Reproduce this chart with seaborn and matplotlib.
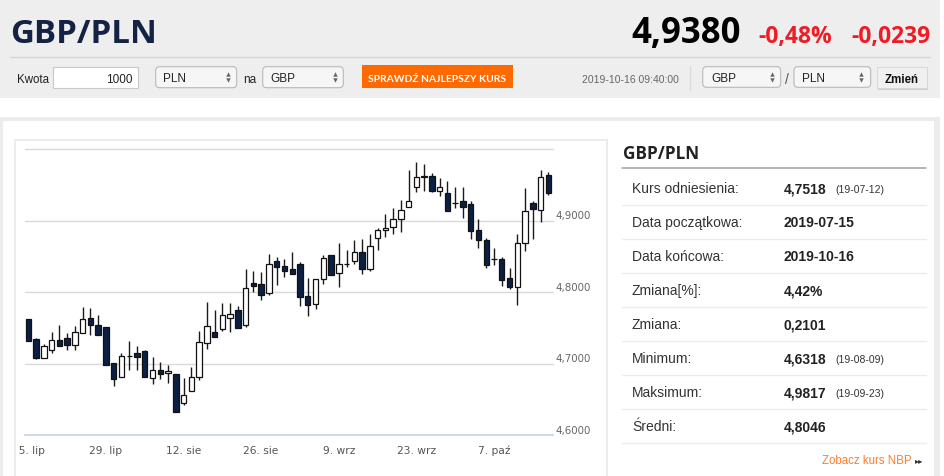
import numpy as np
import pandas as pd
import matplotlib
matplotlib.use("Agg")
import matplotlib.pyplot as plt
import seaborn as sns
from matplotlib.patches import Rectangle, FancyBboxPatch
from matplotlib import transforms as mtransforms

# ---------------- data ----------------
dates = pd.bdate_range("2019-07-15", "2019-10-16")
open_ = [4.7628, 4.7349, 4.7079, 4.7186, 4.7326, 4.7363, 4.7265, 4.7433, 4.7637, 4.7544,
         4.7512, 4.7000, 4.6805, 4.7098, 4.7144, 4.7172, 4.6791, 4.6916, 4.6865, 4.6860,
         4.6451, 4.6614, 4.6805, 4.7290, 4.7442, 4.7488, 4.7642, 4.7744, 4.7535, 4.8130,
         4.8116, 4.7986, 4.8433, 4.8358, 4.8316, 4.8386, 4.7944, 4.7828, 4.8177, 4.8512,
         4.8265, 4.8390, 4.8428, 4.8558, 4.8316, 4.8753, 4.8874, 4.8907, 4.9014, 4.9186,
         4.9465, 4.9614, 4.9619, 4.9419, 4.9386, 4.9245, 4.9270, 4.9233, 4.8870, 4.8730,
         4.8463, 4.8465, 4.8200, 4.8070, 4.8684, 4.9247, 4.9149, 4.9637]
high = [4.7628, 4.7358, 4.7279, 4.7442, 4.7535, 4.7428, 4.7526, 4.7791, 4.7777, 4.7684,
        4.7512, 4.7000, 4.7153, 4.7316, 4.7242, 4.7186, 4.7093, 4.7014, 4.6986, 4.6860,
        4.6791, 4.6953, 4.7456, 4.7855, 4.7744, 4.7851, 4.7851, 4.7805, 4.8316, 4.8293,
        4.8279, 4.8535, 4.8488, 4.8465, 4.8558, 4.8419, 4.8195, 4.8186, 4.8512, 4.8521,
        4.8688, 4.8581, 4.8721, 4.8735, 4.8814, 4.8893, 4.9093, 4.9177, 4.9288, 4.9712,
        4.9817, 4.9790, 4.9665, 4.9591, 4.9558, 4.9465, 4.9465, 4.9279, 4.9023, 4.8753,
        4.8614, 4.8488, 4.8340, 4.8814, 4.9451, 4.9279, 4.9712, 4.9674]
low = [4.7316, 4.7060, 4.7070, 4.7153, 4.7247, 4.7186, 4.7186, 4.7433, 4.7405, 4.7405,
       4.6986, 4.6688, 4.6805, 4.6907, 4.6907, 4.6805, 4.6712, 4.6781, 4.6721, 4.6318,
       4.6419, 4.6614, 4.6767, 4.7209, 4.7372, 4.7456, 4.7442, 4.7498, 4.7512, 4.8000,
       4.7884, 4.7953, 4.8102, 4.8209, 4.8247, 4.7805, 4.7665, 4.7767, 4.8116, 4.8233,
       4.8070, 4.8349, 4.8395, 4.8256, 4.8288, 4.8581, 4.8767, 4.8814, 4.8837, 4.9186,
       4.9395, 4.9419, 4.9395, 4.9340, 4.9126, 4.9172, 4.9033, 4.8744, 4.8614, 4.8340,
       4.8381, 4.8084, 4.8037, 4.7823, 4.8567, 4.8744, 4.8977, 4.9363]
close = [4.7316, 4.7070, 4.7242, 4.7326, 4.7247, 4.7256, 4.7442, 4.7619, 4.7544, 4.7405,
         4.6986, 4.6777, 4.7102, 4.7106, 4.7088, 4.6805, 4.6916, 4.6847, 4.6902, 4.6326,
         4.6558, 4.6805, 4.7302, 4.7520, 4.7372, 4.7674, 4.7698, 4.7498, 4.8060, 4.8084,
         4.7953, 4.8386, 4.8349, 4.8293, 4.8247, 4.7930, 4.7823, 4.8186, 4.8474, 4.8233,
         4.8395, 4.8398, 4.8558, 4.8316, 4.8642, 4.8874, 4.8893, 4.9014, 4.9149, 4.9279,
         4.9605, 4.9619, 4.9419, 4.9474, 4.9126, 4.9249, 4.9186, 4.8860, 4.8721, 4.8381,
         4.8467, 4.8172, 4.8070, 4.8684, 4.9130, 4.9163, 4.9605, 4.9380]

tick_dates = ["2019-07-15", "2019-07-29", "2019-08-12", "2019-08-26",
              "2019-09-09", "2019-09-23", "2019-10-07"]
tick_labels = ["15. lip", "29. lip", "12. sie", "26. sie", "9. wrz", "23. wrz", "7. paź"]
y_grid = [4.7, 4.8, 4.9, 5.0]
y_ticks = [4.6, 4.7, 4.8, 4.9]
y_labels = ["4,6000", "4,7000", "4,8000", "4,9000"]

stat_labels = ["Kurs odniesienia:", "Data początkowa:", "Data końcowa:", "Zmiana[%]:",
               "Zmiana:", "Minimum:", "Maksimum:", "Średni:"]
stat_values = ["4,7518", "2019-07-15", "2019-10-16", "4,42%", "0,2101", "4,6318",
               "4,9817", "4,8046"]
stat_notes = ["(19-07-12)", "", "", "", "", "(19-08-09)", "(19-09-23)", ""]

df = pd.DataFrame({"date": dates[:len(open_)], "open": open_, "high": high,
                   "low": low, "close": close})
df["x"] = np.arange(len(df))

# ---------------- style ----------------
sns.set_style("white")
plt.rcParams["font.family"] = ["Liberation Sans", "DejaVu Sans"]

W, H = 945, 477
fig = plt.figure(figsize=(W / 100, H / 100), dpi=100)
bg = fig.add_axes([0, 0, 1, 1])
bg.set_xlim(0, W)
bg.set_ylim(H, 0)
bg.axis("off")


def rect(x0, y0, x1, y1, **kw):
    bg.add_patch(Rectangle((x0, y0), x1 - x0, y1 - y0, **kw))


def rbox(x0, y0, x1, y1, r=4, **kw):
    bg.add_patch(FancyBboxPatch((x0, y0), x1 - x0, y1 - y0,
                                boxstyle=f"round,pad=0,rounding_size={r}", **kw))


def arrows(x, yc):
    bg.plot([x], [yc - 3], marker="^", ms=3.2, color="#666666", mec="none")
    bg.plot([x], [yc + 3], marker="v", ms=3.2, color="#666666", mec="none")


# page backgrounds
rect(0, 0, 940, 99, fc="#eeeeee", ec="none")
rect(0, 118, 940, 480, fc="#ececec", ec="none")
rect(3, 122, 934, 480, fc="white", ec="none")
rect(15, 141, 607, 490, fc="white", ec="#ebebeb", lw=1.3)

# header
bg.text(10, 43, "GBP/PLN", fontsize=23.8, fontweight="bold", family="Open Sans",
        color="#142244", va="baseline", ha="left")
bg.text(741, 43, "4,9380", fontsize=25, fontweight="bold", family="Open Sans",
        color="#000000", va="baseline", ha="right")
bg.text(758, 42.5, "-0,48%", fontsize=16.5, fontweight="bold", family="Open Sans",
        color="#ee1c25", va="baseline", ha="left")
bg.text(930, 42.5, "-0,0239", fontsize=16.5, fontweight="bold", family="Open Sans",
        color="#ee1c25", va="baseline", ha="right")
bg.plot([10, 930], [58, 58], color="#d6d6d6", lw=1)

# form row
bg.text(17, 83, "Kwota", fontsize=8.3, color="#222222", va="baseline")
rect(53.3, 67.7, 137.7, 89.3, fc="white", ec="#c8c8c8", lw=0.8)
bg.text(133, 83, "1000", fontsize=8.5, color="#222222", va="baseline", ha="right")
rbox(155.7, 67.7, 236.7, 88.7, fc="#f6f6f6", ec="#b8b8b8", lw=0.8)
bg.text(163, 82, "PLN", fontsize=8.5, color="#222222", va="baseline")
arrows(227.7, 78)
bg.text(243, 83, "na", fontsize=8.5, color="#222222", va="baseline")
rbox(262.7, 67.7, 343.3, 88.7, fc="#f6f6f6", ec="#b8b8b8", lw=0.8)
bg.text(270, 82, "GBP", fontsize=8.5, color="#222222", va="baseline")
arrows(335, 78)
rect(361.7, 66, 513.3, 89.3, fc="#ff6a00", ec="none")
bg.text(437.5, 82.5, "SPRAWDŹ NAJLEPSZY KURS", fontsize=7.4, fontweight="bold",
        family="Lato", color="white", va="baseline", ha="center")

bg.text(582, 83, "2019-10-16 09:40:00", fontsize=7.5, color="#666666", va="baseline")
bg.plot([690, 690], [66.7, 90.7], color="#dcdcdc", lw=1)
rbox(702.7, 67.7, 780.7, 88.3, fc="#f6f6f6", ec="#b8b8b8", lw=0.8)
bg.text(711, 82, "GBP", fontsize=8.5, color="#222222", va="baseline")
arrows(772.3, 78)
bg.text(785, 84, "/", fontsize=10, color="#555555", va="baseline")
rbox(794, 67.7, 870.7, 88.3, fc="#f6f6f6", ec="#b8b8b8", lw=0.8)
bg.text(802, 82, "PLN", fontsize=8.5, color="#222222", va="baseline")
arrows(860.7, 78)
rect(877.7, 70.3, 927.7, 91.3, fc="#cfcfcf", ec="none")
rect(876.7, 68.3, 926.7, 89.3, fc="#f0f0f0", ec="#d6d6d6", lw=0.6)
bg.text(901.7, 83.3, "Zmień", fontsize=8.3, fontweight="bold", color="#111111",
        va="baseline", ha="center")

# stats table
bg.text(623, 159.3, "GBP/PLN", fontsize=12.3, fontweight="bold", family="Open Sans",
        color="#222222", va="baseline")
bg.plot([622, 926], [169.3, 169.3], color="#a0a0a0", lw=1.1)
for i, (lab, val, note) in enumerate(zip(stat_labels, stat_values, stat_notes)):
    yb = 193.3 + 34.0 * i
    bg.text(632, yb, lab, fontsize=10, color="#333333", va="baseline")
    bg.text(784, yb, val, fontsize=10, fontweight="bold", color="#222222", va="baseline")
    if note:
        bg.text(835, yb, note, fontsize=7.5, color="#333333", va="baseline")
    ys = 205.6 + 34.0 * i
    bg.plot([622, 926], [ys, ys], color="#ececec", lw=1)
bg.text(912, 464, "Zobacz kurs NBP", fontsize=8.3, color="#ff7b2c", va="baseline",
        ha="right")
bg.text(915, 463, "▸▸", fontsize=6, color="#333333", va="baseline", ha="left",
        family="DejaVu Sans")

# ---------------- candlestick chart ----------------
ax = fig.add_axes([25 / W, 1 - 436 / H, 528 / W, 286 / H])
ax.patch.set_alpha(0)
ax.set_xlim(-0.43, 67.6)
ax.set_ylim(4.6, 5.0)

for v in y_grid:
    ax.axhline(v, color="#d9d9d9", lw=1, zorder=1, clip_on=False)

up = df["close"] >= df["open"]
ax.vlines(df["x"], df["low"], df["high"], color="#1a1a1a", lw=1, zorder=2)
body_h = (df["close"] - df["open"]).abs().clip(lower=0.0004)
body_b = np.minimum(df["open"], df["close"])
ax.bar(df["x"], body_h, bottom=body_b, width=0.7,
       color=np.where(up, "white", "#0b1f44"), edgecolor="#111111", lw=0.9, zorder=3)

for s in ["top", "left", "right"]:
    ax.spines[s].set_visible(False)
ax.spines["bottom"].set_color("#c6d3e3")
ax.spines["bottom"].set_linewidth(1.2)

tick_pos = [int(dates.get_loc(pd.Timestamp(d))) for d in tick_dates]
ax.set_xticks(tick_pos)
ax.set_yticks([])
ax.tick_params(axis="x", direction="out", length=6, width=1, color="#c6d3e3",
               labelbottom=False)

clip_rect = Rectangle((18.3, 0), 926, 477, transform=bg.transData)
xlab_tr = mtransforms.offset_copy(ax.transData, fig=fig, x=0, y=-15, units="dots")
for p, lab in zip(tick_pos, tick_labels):
    t = ax.text(p, 4.6, lab, transform=xlab_tr, ha="center", va="center",
                fontsize=7.7, color="#555555", family="DejaVu Sans")
    t.set_clip_path(clip_rect)
    t.set_clip_on(True)

ylab_tr = mtransforms.offset_copy(
    mtransforms.blended_transform_factory(ax.transAxes, ax.transData),
    fig=fig, x=2, y=2, units="dots")
for v, lab in zip(y_ticks, y_labels):
    ax.text(1.0, v, lab, transform=ylab_tr, ha="left", va="baseline",
            fontsize=7.4, color="#666666", family="DejaVu Sans", clip_on=False)

fig.savefig("out.png", dpi=100)
